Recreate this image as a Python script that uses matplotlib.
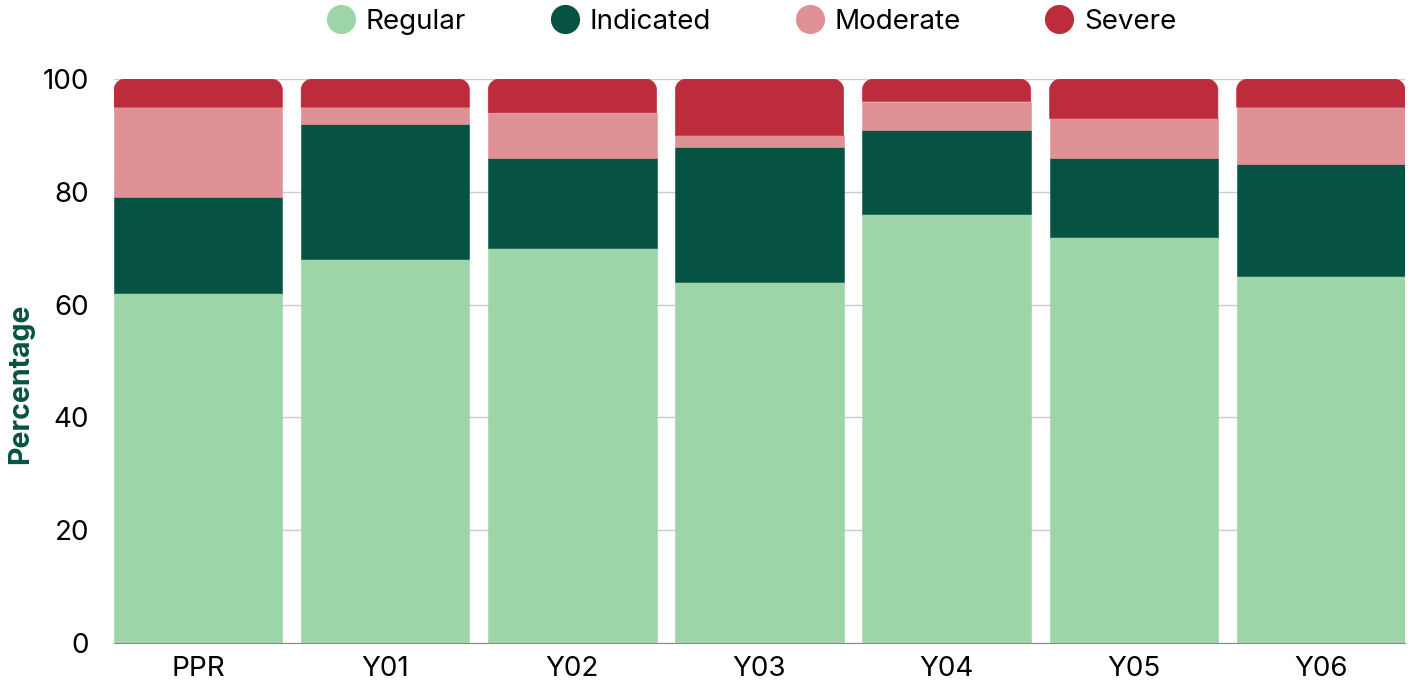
import numpy as np
import matplotlib.pyplot as plt
from matplotlib.path import Path
from matplotlib.patches import PathPatch
from matplotlib.lines import Line2D

plt.rcParams['font.family'] = ['Inter', 'DejaVu Sans']

# data
years = ['PPR', 'Y01', 'Y02', 'Y03', 'Y04', 'Y05', 'Y06']
regular = [62, 68, 70, 64, 76, 72, 65]
indicated = [17, 24, 16, 24, 15, 14, 20]
moderate = [16, 3, 8, 2, 5, 7, 10]
severe = [5, 5, 6, 10, 4, 7, 5]

labels = ['Regular', 'Indicated', 'Moderate', 'Severe']
colors = ['#9dd5a8', '#065343', '#de9296', '#bd2c3c']

W, H = 1410, 684
fig = plt.figure(figsize=(W / 100, H / 100), dpi=100)
ax = fig.add_axes([114 / W, 41 / H, (1405 - 114) / W, (643 - 79) / H])

x = np.arange(len(years))
width = 0.9
ax.set_xlim(-width / 2, len(years) - 1 + width / 2)
ax.set_ylim(0, 100)

# pixel scales for rounded corners
px_x = (1405 - 114) / (len(years) - 1 + width)
px_y = (643 - 79) / 100
r = 11
rx, ry = r / px_x, r / px_y

bottom = np.zeros(len(years))
series = [regular, indicated, moderate]
for vals, c in zip(series, colors[:3]):
    ax.bar(x, vals, width, bottom=bottom, color=c, edgecolor=c, linewidth=0.4, zorder=2)
    bottom += np.array(vals)

# top segment with rounded top corners
k = 0.5523
for xi, b, v in zip(x, bottom, severe):
    x0, x1 = xi - width / 2, xi + width / 2
    y0, y1 = b, b + v
    verts = [(x0, y0), (x0, y1 - ry),
             (x0, y1 - ry + k * ry), (x0 + rx - k * rx, y1), (x0 + rx, y1),
             (x1 - rx, y1),
             (x1 - rx + k * rx, y1), (x1, y1 - ry + k * ry), (x1, y1 - ry),
             (x1, y0), (x0, y0)]
    codes = [Path.MOVETO, Path.LINETO,
             Path.CURVE4, Path.CURVE4, Path.CURVE4,
             Path.LINETO,
             Path.CURVE4, Path.CURVE4, Path.CURVE4,
             Path.LINETO, Path.CLOSEPOLY]
    ax.add_patch(PathPatch(Path(verts, codes), facecolor=colors[3],
                           edgecolor=colors[3], linewidth=0.4, zorder=2))

ax.set_yticks([0, 20, 40, 60, 80, 100])
ax.set_xticks(x)
ax.set_xticklabels(years)
ax.tick_params(axis='both', length=0, labelsize=20, colors='black')
ax.tick_params(axis='y', pad=18)
ax.tick_params(axis='x', pad=9)
ax.grid(axis='y', color='#cccccc', linewidth=1, zorder=0)
for s in ['top', 'right', 'left']:
    ax.spines[s].set_visible(False)
ax.spines['bottom'].set_color('#888888')
ax.spines['bottom'].set_zorder(1)

ax.set_ylabel('Percentage', fontsize=20.5, fontweight='bold', color='#065343')
ax.yaxis.set_label_coords(-80 / (1405 - 114), 0.46)

handles = [Line2D([], [], marker='o', linestyle='', markersize=21,
                  markerfacecolor=c, markeredgewidth=0) for c in colors]
fig.legend(handles, labels, loc='center', bbox_to_anchor=(751 / W, 1 - 22 / H),
           ncol=4, frameon=False, fontsize=20, handletextpad=0.35,
           columnspacing=3.0, handlelength=1.1)

fig.savefig('out.png', dpi=100)
